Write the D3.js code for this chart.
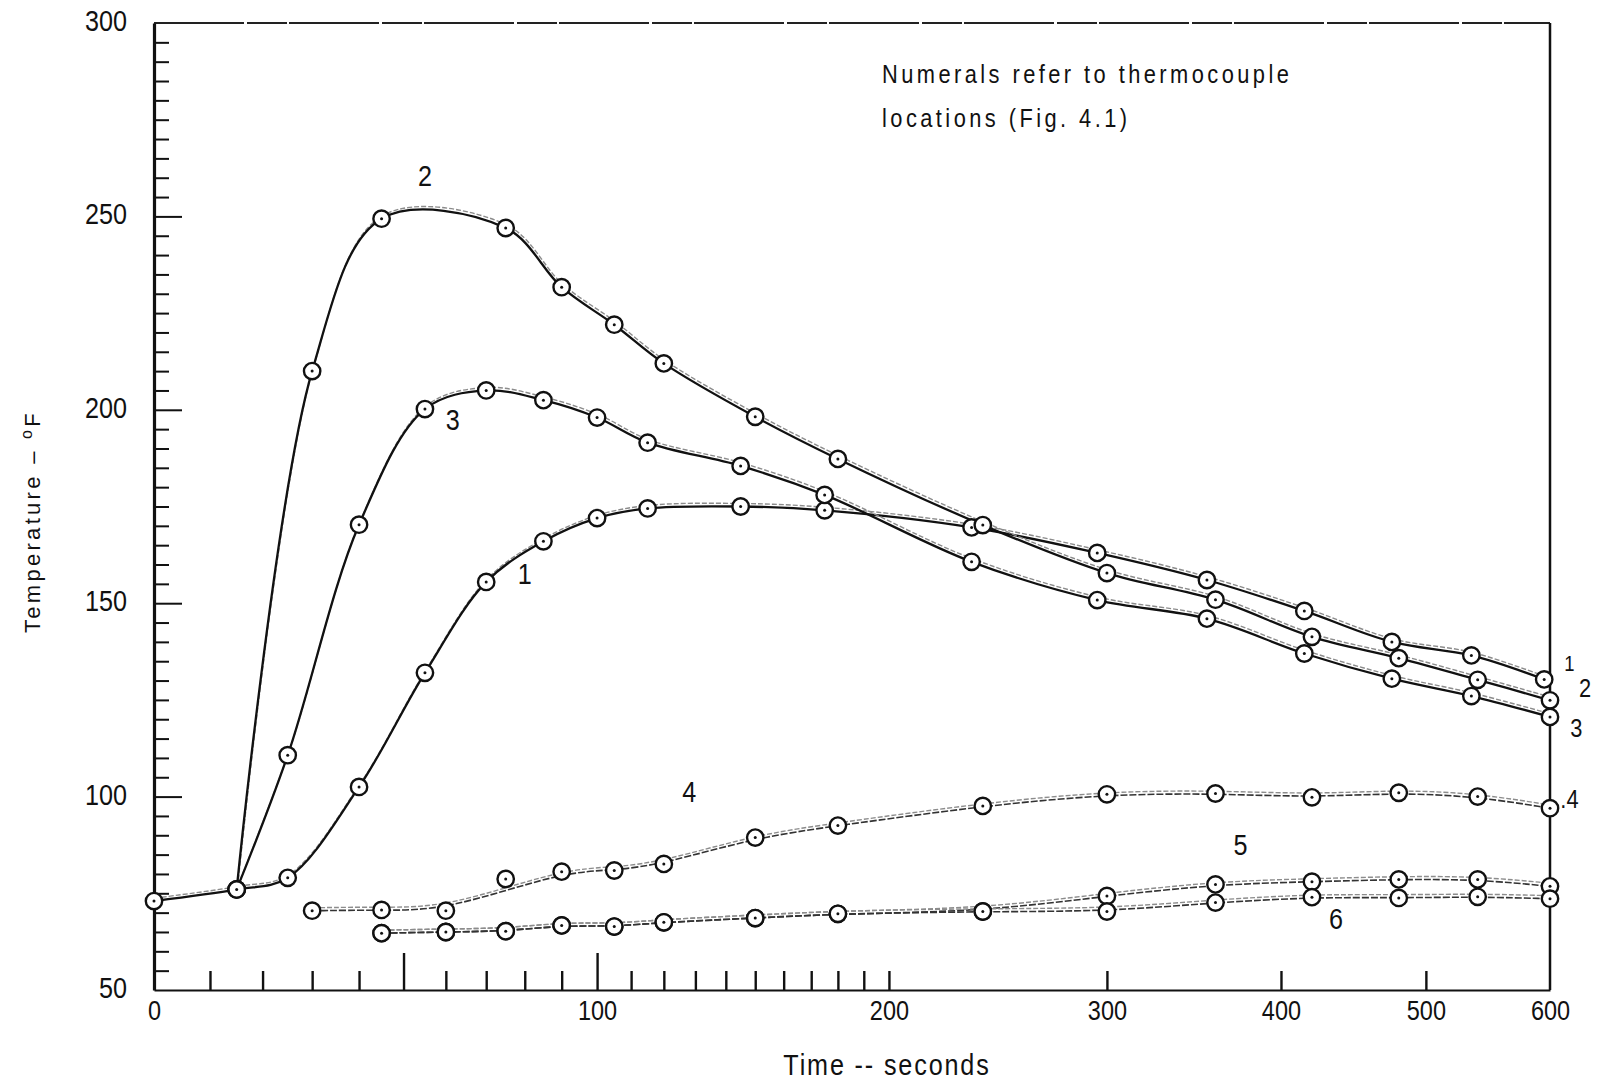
<!DOCTYPE html>
<html>
<head>
<meta charset="utf-8">
<script src="https://cdn.jsdelivr.net/npm/d3@7"></script>
<style>
  html, body { margin: 0; padding: 0; background: #ffffff; }
  svg { display: block; }
  text { font-family: "Liberation Sans", Arial, sans-serif; }
</style>
</head>
<body>
<svg id="chart" width="1597" height="1085"></svg>
<script>
// ---------------- data ----------------
// Thermocouple 1 (its first two readings are shared by curves 2 and 3)
const times1 = [0, 15, 25, 40, 55, 70, 85, 100, 115, 145, 175, 235, 295, 355, 415, 475, 535, 595];
const temps1 = [73, 76, 79, 102.5, 132, 155.5, 166, 172, 174.5, 175, 174, 169.6, 163, 156, 148, 140, 136.5, 130.3];
// Thermocouple 2
const times2 = [15, 30, 45, 75, 90, 105, 120, 150, 180, 240, 300, 360, 420, 480, 540, 600];
const temps2 = [76, 210, 249.4, 247, 231.7, 222, 212, 198.2, 187.3, 170.2, 157.8, 150.9, 141.3, 135.8, 130.2, 124.9];
// Thermocouple 3
const times3 = [15, 25, 40, 55, 70, 85, 100, 115, 145, 175, 235, 295, 355, 415, 475, 535, 600];
const temps3 = [76, 110.7, 170.3, 200.2, 205, 202.5, 198, 191.5, 185.5, 178, 160.7, 150.8, 146, 137, 130.5, 126, 120.6];
// Thermocouple 4
const times4 = [30, 45, 60, 75, 90, 105, 120, 150, 180, 240, 300, 360, 420, 480, 540, 600];
const temps4 = [70.5, 70.7, 70.5, 78.7, 80.6, 80.9, 82.6, 89.4, 92.5, 97.6, 100.6, 100.8, 99.8, 101, 100, 97];
const offCurve4 = [75];            // plotted reading lying off the faired curve
// Thermocouples 5 and 6
const times56 = [45, 60, 75, 90, 105, 120, 150, 180, 240, 300, 360, 420, 480, 540, 600];
const temps5 = [64.7, 65, 65.2, 66.7, 66.4, 67.5, 68.6, 69.7, 70.3, 74.3, 77.3, 78, 78.6, 78.6, 76.8];
const temps6 = [64.7, 65, 65.2, 66.7, 66.4, 67.5, 68.6, 69.7, 70.3, 70.3, 72.6, 74, 73.8, 74.1, 73.6];

// axes
const xMinorTicks = d3.range(0, 201, 10);
const xExtraTicks = [300, 400, 500, 600];
const xLongTicks = [50, 100];
const xTickLabels = [0, 100, 200, 300, 400, 500, 600];
const yMinorTicks = d3.range(50, 301, 5);
const yTickLabels = [50, 100, 150, 200, 250, 300];

const xTitle = "Time -- seconds";
const yTitle = "Temperature \u2013 ";
const yTitleSup = "o";
const yTitleUnit = "F";
const note1 = "Numerals refer to thermocouple";
const note2 = "locations (Fig. 4.1)";

// curve labels: [text, time, temperature]
const curveLabels = [
  ["2", 55, 260.7], ["3", 61.7, 197.4], ["1", 80, 157.8], ["4", 128, 101.2],
  ["5", 375, 87.5], ["6", 436, 68.6]
];
const endLabels = [
  ["1", 617, 134.5, 22], ["2", 631, 128.1, 26], ["3", 623, 117.7, 26], [".4", 617, 99.5, 26]
];

// ---------------- drawing ----------------
const svg = d3.select("#chart");
svg.append("rect").attr("width", 1597).attr("height", 1085).attr("fill", "#fff");

const x = d3.scaleSymlog().constant(150).domain([0, 600]).range([154, 1550]);
const y = d3.scaleLinear().domain([50, 300]).range([990, 23]);

const ink = "#111";
const SX = 0.84;   // horizontal squeeze for the narrow lettering

function narrowLabel(parent, px, py, str, size, anchor) {
  const g = parent.append("g").attr("transform", `translate(${px},${py}) scale(${SX},1)`);
  return g.append("text").attr("font-size", size).attr("fill", ink)
    .attr("text-anchor", anchor || "middle").text(str);
}

// frame
svg.append("line").attr("x1", x(0)).attr("x2", x(600)).attr("y1", y(300)).attr("y2", y(300))
  .attr("stroke", "#222").attr("stroke-width", 2).attr("stroke-dasharray", "90 3 40 2");
svg.append("line").attr("x1", x(600)).attr("x2", x(600)).attr("y1", y(300)).attr("y2", y(50))
  .attr("stroke", ink).attr("stroke-width", 2.5);

// x axis
const xAxis = d3.axisBottom(x)
  .tickValues(xMinorTicks.concat(xExtraTicks))
  .tickSize(-19).tickSizeOuter(0).tickPadding(10)
  .tickFormat(d => xTickLabels.includes(d) ? d : "");
const gx = svg.append("g").attr("transform", `translate(0,${y(50)})`).call(xAxis);
gx.select(".domain").attr("stroke", ink).attr("stroke-width", 2.2);
gx.selectAll(".tick line").attr("stroke", ink).attr("stroke-width", 2.4)
  .attr("y2", d => xLongTicks.includes(d) ? -37 : (d === 600 || d === 0 ? 0 : -19));
gx.selectAll(".tick text").attr("font-size", 28).attr("fill", ink)
  .attr("font-family", "'Liberation Sans', Arial, sans-serif")
  .attr("transform", `scale(${SX},1)`);

// y axis
const yAxis = d3.axisLeft(y)
  .tickValues(yMinorTicks)
  .tickSize(-15).tickSizeOuter(0).tickPadding(27)
  .tickFormat(d => yTickLabels.includes(d) ? d : "");
const gy = svg.append("g").attr("transform", `translate(${x(0)},0)`).call(yAxis);
gy.select(".domain").attr("stroke", ink).attr("stroke-width", 3.2);
gy.selectAll(".tick line").attr("stroke", ink).attr("stroke-width", 2)
  .attr("x2", d => (d === 50 || d === 300) ? 0 : (d % 50 === 0 ? 28 : 15));
gy.selectAll(".tick text").attr("font-size", 30).attr("fill", ink)
  .attr("font-family", "'Liberation Sans', Arial, sans-serif")
  .attr("x", -27 / SX).attr("dy", "0.25em")
  .attr("transform", `scale(${SX},1)`);

// titles
narrowLabel(svg, 887, 1075, xTitle, 30).attr("letter-spacing", 2.2);

const yt = svg.append("text")
  .attr("transform", `translate(40,${(y(50) + y(300)) / 2 + 15}) rotate(-90)`)
  .attr("text-anchor", "middle")
  .attr("font-size", 22).attr("letter-spacing", 3.3).attr("fill", ink);
yt.append("tspan").text(yTitle);
yt.append("tspan").attr("font-size", 16).attr("dy", -8).text(yTitleSup);
yt.append("tspan").attr("dy", 8).text(yTitleUnit);

// note
narrowLabel(svg, 882, 83, note1, 26, "start").attr("letter-spacing", 4.1);
narrowLabel(svg, 882, 127, note2, 26, "start").attr("letter-spacing", 4.1);

// series
const series = [
  {t: times1, v: temps1, heavy: true},
  {t: times2, v: temps2, heavy: true},
  {t: times3, v: temps3, heavy: true},
  {t: times4, v: temps4, heavy: false, skip: offCurve4},
  {t: times56, v: temps5, heavy: false},
  {t: times56, v: temps6, heavy: false}
];

const lineHeavy = d3.line().x(d => x(d[0])).y(d => y(d[1])).curve(d3.curveCatmullRom.alpha(0.5));
const lineFaired = d3.line().x(d => x(d[0])).y(d => y(d[1])).curve(d3.curveBasis);

const linesG = svg.append("g");
series.forEach(s => {
  const pts = s.t.map((t, i) => [t, s.v[i]]).filter(p => !(s.skip || []).includes(p[0]));
  const gen = s.heavy ? lineHeavy : lineFaired;
  // faint second trace (scan "double line")
  linesG.append("path").attr("d", gen(pts)).attr("fill", "none")
    .attr("stroke", "#8c8c8c").attr("stroke-width", 1.4)
    .attr("stroke-dasharray", "5 2").attr("transform", "translate(1,-3)");
  linesG.append("path").attr("d", gen(pts)).attr("fill", "none")
    .attr("stroke", s.heavy ? ink : "#333")
    .attr("stroke-width", s.heavy ? 2.3 : 1.6)
    .attr("stroke-dasharray", s.heavy ? null : "7 2");
});

const markG = svg.append("g");
series.forEach(s => {
  const pts = s.t.map((t, i) => [t, s.v[i]]);
  const g = markG.selectAll(null).data(pts).enter().append("g")
    .attr("transform", d => `translate(${x(d[0])},${y(d[1])})`);
  g.append("circle").attr("r", 8.2).attr("fill", "#fff").attr("stroke", ink).attr("stroke-width", 2.4);
  g.append("circle").attr("r", 1.5).attr("fill", ink);
});

// labels
const labG = svg.append("g");
curveLabels.forEach(d => {
  narrowLabel(labG, x(d[1]), y(d[2]), d[0], 30).attr("dy", "0.35em");
});
endLabels.forEach(d => {
  narrowLabel(labG, x(d[1]), y(d[2]), d[0], d[3]).attr("dy", "0.35em");
});
</script>
</body>
</html>
